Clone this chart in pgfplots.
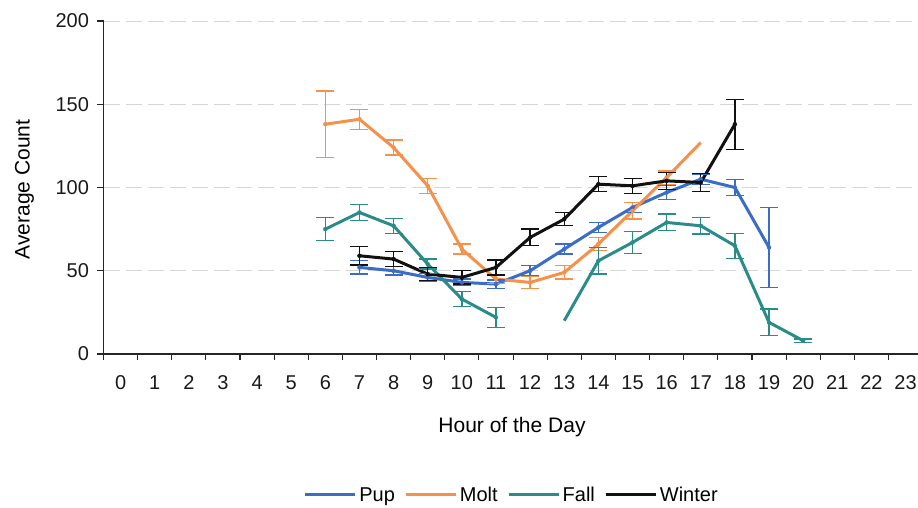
\documentclass[border=0pt]{standalone}
\usepackage{fontspec}
\setmainfont{Liberation Sans}
\usepackage{pgfplots}
\pgfplotsset{compat=1.18}
\usepackage{pgfplotstable}

\definecolor{pupblue}{HTML}{3A6CC8}
\definecolor{moltorange}{HTML}{F5914A}
\definecolor{fallteal}{HTML}{2A8C8A}
\definecolor{winterblack}{HTML}{111111}
\definecolor{gridgray}{HTML}{D6D6D6}

% hour, average count, error
\pgfplotstableread{
h v e
7 52 4
8 50 2.5
9 46 2.5
10 43 2
11 42 2.5
12 50 3
13 63 3
14 76 3
15 88 3
16 97 4
17 105 3
18 100 5
19 64 24
}\pup

\pgfplotstableread{
h v e
6 138 20
7 141 6
8 124 4.5
9 101 4.5
10 63 3
11 45 2.5
12 43 3.5
13 49 4
14 66 4
15 86 5
16 106 4
17 127 0
}\molt

\pgfplotstableread{
h v e
6 75 7
7 85 5
8 77 4.5
9 54 3
10 33 4.5
11 22 6
}\fallA

\pgfplotstableread{
h v e
13 20 0
14 56 8
15 67 6.5
16 79 5
17 77 5
18 65 7.5
19 19 8
20 8 1
}\fallB

\pgfplotstableread{
h v e
7 59 5.5
8 57 4.5
9 48 4
10 46 4
11 52 4.5
12 70 5
13 81 4
14 102 4.5
15 101 4.5
16 104 5
17 103 5.5
18 138 15
}\winter

\newcommand{\tickfont}{\fontsize{20}{23}\selectfont}
\newcommand{\labelfont}{\fontsize{21}{24}\selectfont}

\begin{document}
\begin{tikzpicture}[x=1pt,y=1pt]
\useasboundingbox (0,0) rectangle (918,507);
\begin{axis}[
  at={(103.5pt,153pt)}, anchor=south west,
  scale only axis, width=819.1pt, height=333pt,
  xmin=-0.5, xmax=23.5, ymin=0, ymax=200,
  axis x line=bottom, axis y line=left,
  axis line style={-, draw=black!85, line width=1.1pt},
  xtick={0,...,23},
  minor xtick={-0.5,0.5,...,23.5},
  major x tick style={draw=none},
  ytick={0,50,...,200},
  tick align=outside,
  major tick length=6pt, minor tick length=6pt,
  tick style={draw=black!85, line width=1.1pt},
  ymajorgrids,
  grid style={draw=gridgray, line width=1pt, dash pattern=on 16pt off 6pt},
  tick label style={font=\tickfont, text=black!90},
  xticklabel style={yshift=-12pt},
  yticklabel style={xshift=-5pt},
  /pgf/number format/assume math mode=true,
  legend style={at={(0.4987,-0.4234)}, anchor=center, draw=none,
    font=\tickfont, legend columns=4,
    nodes={inner sep=2.5pt},
    /tikz/every even column/.append style={column sep=7pt}},
  legend image code/.code={\draw[#1, line width=3pt] (0pt,0pt) -- (50pt,0pt);},
  series/.style={line width=3pt, mark=none},
  bars/.style={forget plot, only marks, mark=none,
    error bars/.cd, y dir=both, y explicit,
    error bar style={line width=1.3pt},
    error mark options={rotate=90, mark size=9pt, line width=1.3pt}},
]
% lines
\addplot[series, pupblue] table[x=h, y=v] {\pup};
\addlegendentry{Pup}
\addplot[series, moltorange] table[x=h, y=v] {\molt};
\addlegendentry{Molt}
\addplot[series, fallteal] table[x=h, y=v] {\fallA};
\addlegendentry{Fall}
\addplot[series, fallteal, forget plot] table[x=h, y=v] {\fallB};
\addplot[series, winterblack] table[x=h, y=v] {\winter};
\addlegendentry{Winter}
% error bars (none at the points without a spread)
\addplot[pupblue, bars] table[x=h, y=v, y error=e] {\pup};
\addplot[moltorange, skip coords between index={11}{12}, bars] table[x=h, y=v, y error=e] {\molt};
\addplot[fallteal, bars] table[x=h, y=v, y error=e] {\fallA};
\addplot[fallteal, skip coords between index={0}{1}, bars] table[x=h, y=v, y error=e] {\fallB};
\addplot[winterblack, bars] table[x=h, y=v, y error=e] {\winter};
\end{axis}
\node[font=\labelfont] at (512,79.5) {Hour of the Day};
\node[font=\labelfont, rotate=90] at (24.5,317.5) {Average Count};
\end{tikzpicture}
\end{document}
